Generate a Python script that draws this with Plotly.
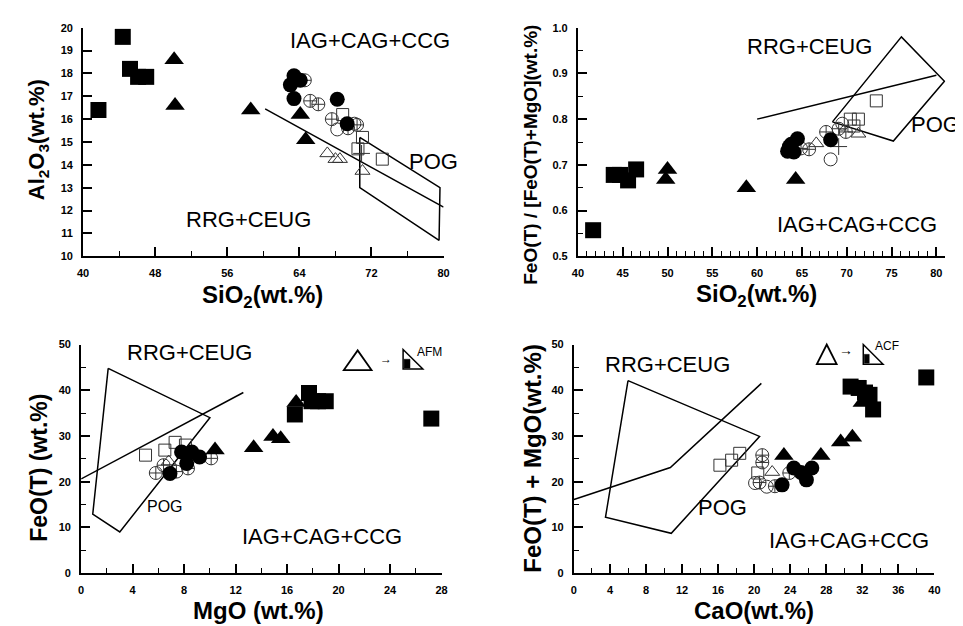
import plotly.graph_objects as go

# ---------------- Panel 1: SiO2 vs Al2O3 ----------------
p1_fsq_x = [41.7, 44.4, 45.2, 46.1, 47.0]
p1_fsq_y = [16.4, 19.6, 18.2, 17.85, 17.85]
p1_ftri_x = [50.1, 50.2, 58.6, 64.1, 64.7]
p1_ftri_y = [18.6, 16.6, 16.4, 16.2, 15.1]
p1_fcir_x = [63.4, 64.1, 63.0, 63.4, 68.2, 69.3]
p1_fcir_y = [17.9, 17.7, 17.5, 16.9, 16.87, 15.8]
p1_ccir_x = [64.6, 65.2, 66.1, 67.6, 70.4, 69.4]
p1_ccir_y = [17.7, 16.8, 16.65, 16.0, 15.75, 15.6]
p1_ocir_x = [68.2, 70.1]
p1_ocir_y = [15.55, 15.8]
p1_osq_x = [68.8, 71.0, 70.5, 73.2]
p1_osq_y = [16.2, 15.2, 14.7, 14.25]
p1_otri_x = [67.1, 68.0, 68.5, 71.0]
p1_otri_y = [14.5, 14.25, 14.25, 13.73]
p1_cross_x = [70.9]
p1_cross_y = [14.5]
p1_line_x = [60.2, 80.0]
p1_line_y = [16.45, 12.15]
p1_pog_x = [70.7, 79.6, 79.5, 70.7, 70.7]
p1_pog_y = [15.2, 13.0, 10.7, 13.0, 15.2]

# ---------------- Panel 2: SiO2 vs FeO/(FeO+MgO) ----------------
p2_fsq_x = [41.7, 44.0, 44.7, 45.6, 46.5]
p2_fsq_y = [0.557, 0.678, 0.678, 0.666, 0.690]
p2_ftri_x = [50.0, 49.8, 58.8, 64.3]
p2_ftri_y = [0.690, 0.668, 0.650, 0.668]
p2_fcir_x = [63.4, 63.8, 64.5, 63.6, 64.1, 68.2]
p2_fcir_y = [0.730, 0.745, 0.757, 0.740, 0.728, 0.755]
p2_ccir_x = [64.9, 65.8, 67.7, 69.1, 69.9]
p2_ccir_y = [0.736, 0.734, 0.772, 0.779, 0.772]
p2_ocir_x = [68.2, 69.5]
p2_ocir_y = [0.712, 0.790]
p2_osq_x = [70.4, 71.3, 73.3, 70.8]
p2_osq_y = [0.800, 0.800, 0.840, 0.785]
p2_otri_x = [66.6, 71.3]
p2_otri_y = [0.747, 0.768]
p2_cross_x = [69.1]
p2_cross_y = [0.740]
p2_line_x = [60.0, 80.0]
p2_line_y = [0.800, 0.896]
p2_pog_x = [68.4, 76.1, 80.9, 75.2, 68.4]
p2_pog_y = [0.794, 0.980, 0.883, 0.752, 0.794]

# ---------------- Panel 3: MgO vs FeO(T) ----------------
p3_fsq_x = [17.7, 16.6, 17.9, 18.4, 19.0, 27.2]
p3_fsq_y = [39.4, 34.7, 37.6, 37.6, 37.6, 33.8]
p3_ftri_x = [16.7, 10.4, 13.4, 14.9, 15.5]
p3_ftri_y = [37.3, 26.9, 27.4, 29.9, 29.4]
p3_fcir_x = [6.9, 7.8, 8.2, 9.2, 8.6]
p3_fcir_y = [21.8, 26.5, 24.0, 25.4, 26.5]
p3_ccir_x = [5.8, 6.4, 7.4, 8.3, 10.1]
p3_ccir_y = [21.9, 23.6, 22.2, 22.9, 25.1]
p3_osq_x = [5.0, 6.5, 7.3, 8.1]
p3_osq_y = [25.8, 26.9, 28.6, 28.0]
p3_otri_x = [6.8]
p3_otri_y = [24.4]
p3_line_x = [0.0, 12.6]
p3_line_y = [20.6, 39.5]
p3_pog_x = [2.1, 10.0, 3.0, 0.9, 2.1]
p3_pog_y = [44.8, 34.0, 9.0, 12.9, 44.8]

# ---------------- Panel 4: CaO vs FeO(T)+MgO ----------------
p4_fsq_x = [30.7, 31.6, 32.3, 32.8, 33.2, 39.1]
p4_fsq_y = [40.8, 40.5, 39.5, 39.0, 35.8, 42.8]
p4_ftri_x = [32.0, 29.6, 30.9, 23.3, 27.4]
p4_ftri_y = [37.3, 28.7, 29.7, 25.7, 25.7]
p4_fcir_x = [23.1, 24.4, 25.8, 26.4, 25.2]
p4_fcir_y = [19.3, 23.0, 20.4, 23.0, 22.0]
p4_ccir_x = [20.9, 20.9, 23.9, 20.6, 22.3]
p4_ccir_y = [25.8, 24.2, 21.9, 19.8, 19.0]
p4_ocir_x = [20.1, 21.4]
p4_ocir_y = [19.7, 18.9]
p4_osq_x = [16.2, 17.5, 18.4, 20.4]
p4_osq_y = [23.6, 24.7, 26.2, 21.9]
p4_otri_x = [22.0]
p4_otri_y = [22.1]
p4_line_x = [0.0, 10.7, 20.8]
p4_line_y = [16.1, 23.1, 41.5]
p4_pog_x = [6.0, 20.6, 10.8, 3.5, 6.0]
p4_pog_y = [42.1, 29.9, 8.7, 12.2, 42.1]

FONT = "Liberation Sans, Arial, sans-serif"
W, H = 963, 626

fig = go.Figure()

def add_panel(n, groups, line_x, line_y, pog_x, pog_y):
    xa = "x" if n == 1 else f"x{n}"
    ya = "y" if n == 1 else f"y{n}"
    fig.add_trace(go.Scatter(x=line_x, y=line_y, mode="lines", xaxis=xa, yaxis=ya,
                             line=dict(color="black", width=1.5), showlegend=False, hoverinfo="skip"))
    fig.add_trace(go.Scatter(x=pog_x, y=pog_y, mode="lines", xaxis=xa, yaxis=ya,
                             line=dict(color="black", width=1.5), showlegend=False, hoverinfo="skip"))
    for gx, gy, sym, size, filled in groups:
        if filled:
            mk = dict(symbol=sym, size=size, color="black", line=dict(width=0))
        else:
            mk = dict(symbol=sym, size=size, color="#333333", line=dict(width=1, color="#333333"))
        fig.add_trace(go.Scatter(x=gx, y=gy, mode="markers", xaxis=xa, yaxis=ya,
                                 marker=mk, showlegend=False, cliponaxis=False))

def grp(fsq, ftri, fcir, ccir, ocir, osq, otri, cross):
    g = []
    if osq: g.append((osq[0], osq[1], "square-open", 12, False))
    if ocir: g.append((ocir[0], ocir[1], "circle-open", 13, False))
    if ccir: g.append((ccir[0], ccir[1], "circle-cross-open", 13, False))
    if otri: g.append((otri[0], otri[1], "triangle-up-open", 13, False))
    if cross: g.append((cross[0], cross[1], "cross-thin-open", 12, False))
    if fcir: g.append((fcir[0], fcir[1], "circle", 15, True))
    if ftri: g.append((ftri[0], ftri[1], "triangle-up", 17, True))
    if fsq: g.append((fsq[0], fsq[1], "square", 16, True))
    return g

add_panel(1, grp((p1_fsq_x, p1_fsq_y), (p1_ftri_x, p1_ftri_y), (p1_fcir_x, p1_fcir_y),
                 (p1_ccir_x, p1_ccir_y), (p1_ocir_x, p1_ocir_y), (p1_osq_x, p1_osq_y),
                 (p1_otri_x, p1_otri_y), (p1_cross_x, p1_cross_y)),
          p1_line_x, p1_line_y, p1_pog_x, p1_pog_y)
add_panel(2, grp((p2_fsq_x, p2_fsq_y), (p2_ftri_x, p2_ftri_y), (p2_fcir_x, p2_fcir_y),
                 (p2_ccir_x, p2_ccir_y), (p2_ocir_x, p2_ocir_y), (p2_osq_x, p2_osq_y),
                 (p2_otri_x, p2_otri_y), (p2_cross_x, p2_cross_y)),
          p2_line_x, p2_line_y, p2_pog_x, p2_pog_y)
add_panel(3, grp((p3_fsq_x, p3_fsq_y), (p3_ftri_x, p3_ftri_y), (p3_fcir_x, p3_fcir_y),
                 (p3_ccir_x, p3_ccir_y), None, (p3_osq_x, p3_osq_y),
                 (p3_otri_x, p3_otri_y), None),
          p3_line_x, p3_line_y, p3_pog_x, p3_pog_y)
add_panel(4, grp((p4_fsq_x, p4_fsq_y), (p4_ftri_x, p4_ftri_y), (p4_fcir_x, p4_fcir_y),
                 (p4_ccir_x, p4_ccir_y), (p4_ocir_x, p4_ocir_y), (p4_osq_x, p4_osq_y),
                 (p4_otri_x, p4_otri_y), None),
          p4_line_x, p4_line_y, p4_pog_x, p4_pog_y)

def px(x):
    return x / W

def py(y):
    return 1 - y / H

tickfont = dict(family=FONT, size=11, color="black", weight="bold")

def axis(domain, rng, dtick, minor, anchor, fmt=None):
    d = dict(domain=domain, range=rng, dtick=dtick, tick0=rng[0],
             showline=True, linecolor="black", linewidth=2, ticks="inside", ticklen=9,
             tickwidth=1.5, tickcolor="black", showgrid=False, zeroline=False,
             tickfont=tickfont, anchor=anchor, ticklabelstandoff=6,
             minor=dict(dtick=minor, ticks="inside", ticklen=5, tickwidth=1.2,
                        tickcolor="black", showgrid=False))
    if fmt:
        d["tickformat"] = fmt
    return d

top = [py(247), py(14)]
bot = [py(570), py(337)]

# panel 2 x axis: 80 sits at 934 px; range extended slightly so the POG field is not cut
x2_per = (934 - 571) / 40.0
fig.update_layout(
    width=W, height=H, margin=dict(l=0, r=0, t=0, b=0),
    plot_bgcolor="white", paper_bgcolor="white", showlegend=False,
    xaxis=axis([px(70), px(435)], [40, 80], 8, 4, "y"),
    yaxis=axis(top, [10, 20], 1, 1, "x"),
    xaxis2=axis([px(571), px(934 + 1.0 * x2_per)], [40, 81], 5, 1, "y2"),
    yaxis2=axis(top, [0.5, 1.0], 0.1, 0.05, "x2", ".1f"),
    xaxis3=axis([px(68), px(433)], [0, 28], 4, 2, "y3"),
    yaxis3=axis(bot, [0, 50], 10, 5, "x3"),
    xaxis4=axis([px(567), px(932)], [0, 40], 4, 2, "y4"),
    yaxis4=axis(bot, [0, 50], 10, 5, "x4"),
)

ann = []
def lab(text, x, y, xr, yr, size=22):
    ann.append(dict(text=text, x=x, y=y, xref=xr, yref=yr, showarrow=False,
                    font=dict(family=FONT, size=size, color="black"),
                    xanchor="center", yanchor="middle"))

lab("IAG+CAG+CCG", 71.8, 19.44, "x", "y")
lab("POG", 78.9, 14.16, "x", "y")
lab("RRG+CEUG", 58.3, 11.6, "x", "y")
lab("RRG+CEUG", 65.8, 0.959, "x2", "y2")
lab("POG", 79.9, 0.788, "x2", "y2")
lab("IAG+CAG+CCG", 71.1, 0.569, "x2", "y2")
lab("RRG+CEUG", 8.44, 48.3, "x3", "y3")
lab("POG", 6.5, 14.6, "x3", "y3", size=16)
lab("IAG+CAG+CCG", 18.7, 7.9, "x3", "y3")
lab("RRG+CEUG", 10.4, 45.7, "x4", "y4")
lab("POG", 16.5, 14.4, "x4", "y4")
lab("IAG+CAG+CCG", 30.5, 7.1, "x4", "y4")

def title(text, cx, cy, size, angle=0):
    ann.append(dict(text=text, x=px(cx), y=py(cy), xref="paper", yref="paper",
                    showarrow=False, textangle=angle, xanchor="center", yanchor="middle",
                    font=dict(family=FONT, size=size, color="black", weight="bold")))

title("SiO<sub>2</sub>(wt.%)", 252, 288, 24)
title("Al<sub>2</sub>O<sub>3</sub>(wt.%)", 24, 128, 22, -90)
title("SiO<sub>2</sub>(wt.%)", 752, 287, 24)
title("FeO(T) / [FeO(T)+MgO](wt.%)", 523, 143, 19, -90)
title("MgO (wt.%)", 248, 608, 24)
title("FeO(T) (wt.%)", 25, 463, 23, -90)
title("CaO(wt.%)", 749, 608, 24)
title("FeO(T) + MgO(wt.%)", 525, 453, 24, -90)

def small(text, cx, cy, size=12):
    ann.append(dict(text=text, x=px(cx), y=py(cy), xref="paper", yref="paper",
                    showarrow=False, xanchor="center", yanchor="middle",
                    font=dict(family=FONT, size=size, color="black")))

small("AFM", 421, 345)
small("→", 377, 352, 12)
small("ACF", 884, 338)
small("→", 842, 343, 14)

shapes = []
def poly(pts, fill=None, width=1.5):
    path = "M " + " L ".join(f"{px(a)},{py(b)}" for a, b in pts) + " Z"
    shapes.append(dict(type="path", path=path, xref="paper", yref="paper",
                       line=dict(color="black", width=width),
                       fillcolor=fill if fill else "rgba(0,0,0,0)"))

# AFM icon
poly([(334, 363), (362, 363), (348, 343)], width=1.8)
poly([(394, 342), (394, 362), (414, 362)], width=1.5)
poly([(395, 352), (401, 352), (401, 361), (395, 361)], fill="black", width=0.5)
# ACF icon
poly([(813, 357), (833, 357), (823, 337)], width=1.8)
poly([(860, 337), (860, 357), (880, 357)], width=1.5)
poly([(861, 347), (866, 347), (866, 356), (861, 356)], fill="black", width=0.5)

fig.update_layout(annotations=ann, shapes=shapes)

fig.write_html("out.html")
